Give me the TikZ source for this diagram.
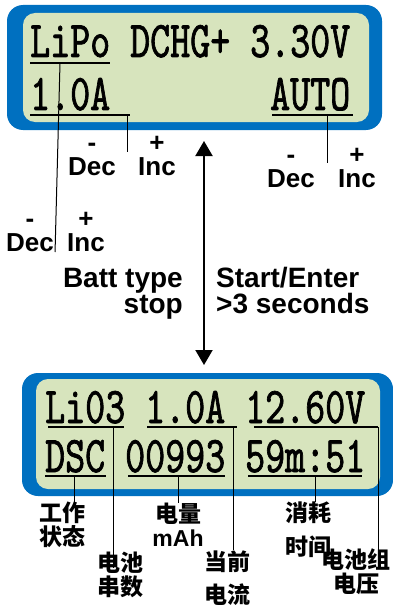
\documentclass[tikz,border=0pt]{standalone}
\usepackage{fontspec}
\setmainfont{Liberation Sans}
\newfontfamily\lcdfont[Extension=.otf,FakeStretch=0.74,FakeBold=1.3]{lmmono10-regular}
\newfontfamily\cjk{Noto Sans CJK SC}
\usetikzlibrary{arrows.meta,calc}
\definecolor{lcdblue}{HTML}{0070C0}
\definecolor{lcdgreen}{HTML}{D7E4BD}

\tikzset{
  lcd/.style={anchor=base west,inner sep=0pt,font=\lcdfont\fontsize{51.5}{52}\selectfont},
  key/.style={anchor=south,align=center,inner sep=0pt,font=\bfseries\fontsize{26}{31}\selectfont},
  arrtxt/.style={inner sep=0pt,font=\bfseries\fontsize{28}{28}\selectfont},
  note/.style={align=center,inner sep=0pt,font=\cjk\bfseries\fontsize{23}{24}\selectfont},
  uline/.style={line width=1.6pt},
  lead/.style={line width=1pt},
  flow/.style={{Triangle[width=17pt,length=15pt]}-{Triangle[width=17pt,length=15pt]},line width=2pt},
}

\begin{document}
\begin{tikzpicture}[x=1pt,y=-1pt]
  \useasboundingbox (0,0) rectangle (392,607);

  % upper screen
  \fill[lcdblue,rounded corners=16pt] (7,5) rectangle (382,130);
  \fill[lcdgreen,rounded corners=12pt] (23,13) rectangle (369,122);
  \node[lcd] (lipo) at (30,57) {LiPo};
  \node[lcd] (dchg) at (130,57) {DCHG+};
  \node[lcd] (volt) at (250,57) {3.30V};
  \node[lcd] (amp) at (30,110) {1.0A};
  \node[lcd] (auto) at (270,110) {AUTO};
  \draw[uline] (30,63) -- (110,63);
  \draw[uline] (30,115) -- (130,115);
  \draw[uline] (272,115) -- (353,115);
  \coordinate (lipoTap) at (60,63);
  \coordinate (ampTap) at (127,115);
  \coordinate (autoTap) at (327,115);

  % keys
  \node[key] (decA) at (92,176) {-\\[-7pt]Dec};
  \node[key] (incA) at (157,176) {+\\[-7pt]Inc};
  \node[key] (decB) at (291,188) {-\\[-7pt]Dec};
  \node[key] (incB) at (357,188) {+\\[-7pt]Inc};
  \node[key] (decC) at (30,252) {-\\[-7pt]Dec};
  \node[key] (incC) at (86,252) {+\\[-7pt]Inc};
  \draw[lead] (lipoTap) -- ($(decC.south east)+(1,0)$);
  \draw[lead] (ampTap) -- ++(0,37);
  \draw[lead] (autoTap) -- ++(0,48);

  % switch between screens
  \coordinate (armTop) at (204,141);
  \coordinate (armBot) at (204,365);
  \draw[flow] (armTop) -- (armBot);
  \node[arrtxt,anchor=base east] (batt) at (183,287) {Batt type};
  \node[arrtxt,anchor=base east] (stop) at (183,313) {stop};
  \node[arrtxt,anchor=base west] (start) at (216,287) {Start/Enter};
  \node[arrtxt,anchor=base west] (hold) at (216,313) {>3 seconds};

  % lower screen
  \fill[lcdblue,rounded corners=16pt] (22,373) rectangle (393,496);
  \fill[lcdgreen,rounded corners=12pt] (36,379) rectangle (380,489);
  \node[lcd] (li03) at (45,423) {Li03};
  \node[lcd] (amp2) at (145,423) {1.0A};
  \node[lcd] (pack) at (245,423) {12.60V};
  \node[lcd] (dsc) at (45,472) {DSC};
  \node[lcd] (mah) at (125,472) {00993};
  \node[lcd] (clock) at (245,472) {59m:51};
  \draw[uline] (48,427) -- (124,427);
  \draw[uline] (147,427) -- (237,427);
  \draw[uline] (254,427) -- (378,427);
  \draw[uline] (45,476) -- (106,476);
  \draw[uline] (128,476) -- (225,476);
  \draw[uline] (248,476) -- (362,476);
  \coordinate (li03Tap) at (113,427);
  \coordinate (amp2Tap) at (233,427);
  \coordinate (packTap) at (378,427);
  \coordinate (dscTap) at (74,476);
  \coordinate (mahTap) at (178,476);
  \coordinate (clockTap) at (315,476);

  % notes
  \node[note] (state) at (62,525) {工作\\状态};
  \node[note] (cells) at (120,575) {电池\\串数};
  \node[note] (cap) at (178,525) {电量\\\textrm{mAh}};
  \node[note] (curr) at (227,578) {当前\\[9pt]电流};
  \node[note] (time) at (308,530) {消耗\\[10pt]时间};
  \node[note] (volts) at (356,572) {电池组\\电压};
  \draw[lead] (dscTap) -- (dscTap |- state.north);
  \draw[lead] (li03Tap) -- ++(0,141);
  \draw[lead] (mahTap) -- (mahTap |- cap.north);
  \draw[lead] (amp2Tap) -- (amp2Tap |- curr.north);
  \draw[lead] (clockTap) -- (clockTap |- time.north);
  \draw[lead] (packTap) -- ++(0,128);
\end{tikzpicture}
\end{document}
